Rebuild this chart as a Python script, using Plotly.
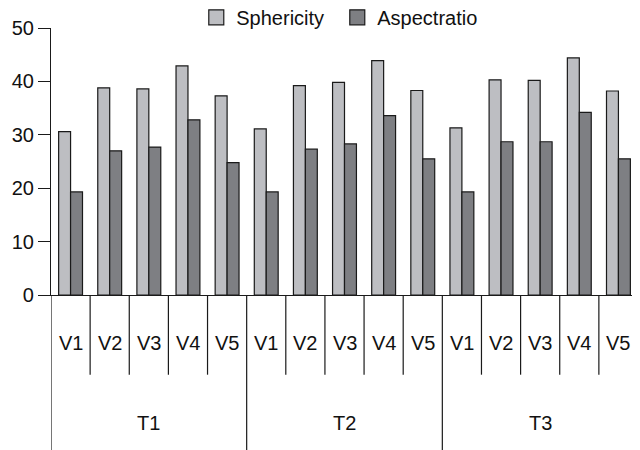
import plotly.graph_objects as go

treatments = ["T1", "T2", "T3"]
varieties = ["V1", "V2", "V3", "V4", "V5"]
sphericity = [30.6, 38.8, 38.6, 42.9, 37.3,
              31.1, 39.2, 39.8, 43.9, 38.3,
              31.3, 40.3, 40.2, 44.4, 38.2]
aspectratio = [19.3, 27.0, 27.7, 32.8, 24.8,
               19.3, 27.3, 28.3, 33.6, 25.5,
               19.3, 28.7, 28.7, 34.2, 25.5]
series_names = ["Sphericity", "Aspectratio"]
colors = ["#bdbec2", "#7e7f83"]
y_ticks = [0, 10, 20, 30, 40, 50]

FONT = "Liberation Sans, Arial, Helvetica, sans-serif"
n_v = len(varieties)
cat_labels = [v for t in treatments for v in varieties]
xs = list(range(len(cat_labels)))

fig = go.Figure()
for name, vals, col in zip(series_names, [sphericity, aspectratio], colors):
    fig.add_trace(go.Bar(
        x=xs, y=vals, name=name, showlegend=False,
        marker=dict(color=col, line=dict(color="#1a1a1a", width=1.2)),
    ))
    # legend proxy with a larger square symbol
    fig.add_trace(go.Scatter(
        x=[None], y=[None], mode="markers", name=name,
        marker=dict(symbol="square", size=15, color=col,
                    line=dict(color="#1a1a1a", width=1.2)),
    ))

# pixel geometry of axis region (for label placement in paper units)
plot_h = 267.0
v_sep_bottom = -(375 - 295.3) / plot_h
t_sep_bottom = -(452 - 295.3) / plot_h
v_label_y = -(343 - 295.3) / plot_h
t_label_y = -(423 - 295.3) / plot_h

shapes = []
for i in range(len(cat_labels) + 1):
    bottom = t_sep_bottom if i % n_v == 0 else v_sep_bottom
    shapes.append(dict(type="line", xref="x", yref="paper",
                       x0=i - 0.5, x1=i - 0.5, y0=0, y1=bottom,
                       line=dict(color="#1a1a1a", width=1.2)))

annotations = []
for i, lab in enumerate(cat_labels):
    annotations.append(dict(x=i, y=v_label_y, xref="x", yref="paper",
                            text=lab, showarrow=False,
                            font=dict(family=FONT, size=20, color="#111"),
                            xanchor="center", yanchor="middle"))
for j, t in enumerate(treatments):
    annotations.append(dict(x=j * n_v + (n_v - 1) / 2, y=t_label_y,
                            xref="x", yref="paper", text=t, showarrow=False,
                            font=dict(family=FONT, size=20, color="#111"),
                            xanchor="center", yanchor="middle"))

fig.update_layout(
    width=632, height=442,
    margin=dict(l=43, r=2, t=20, b=155, autoexpand=False),
    paper_bgcolor="white", plot_bgcolor="white",
    barmode="group", bargap=0.39, bargroupgap=0,
    font=dict(family=FONT, size=20, color="#111"),
    legend=dict(orientation="h", x=0.2475, xanchor="left",
                y=1.04, yanchor="middle", entrywidth=96,
                font=dict(family=FONT, size=20, color="#111"),
                itemsizing="trace", bgcolor="rgba(0,0,0,0)"),
    xaxis=dict(range=[-0.5, len(cat_labels) - 0.5], showticklabels=False,
               showline=True, linecolor="#1a1a1a", linewidth=1.2,
               ticks="", showgrid=False, zeroline=False, fixedrange=True),
    yaxis=dict(range=[0, 50], tickvals=y_ticks, ticks="outside", ticklen=12,
               tickcolor="#1a1a1a", tickwidth=1.2,
               showline=True, linecolor="#1a1a1a", linewidth=1.2,
               showgrid=False, zeroline=False,
               tickfont=dict(family=FONT, size=20, color="#111")),
    shapes=shapes, annotations=annotations,
)

fig.write_html("out.html")
